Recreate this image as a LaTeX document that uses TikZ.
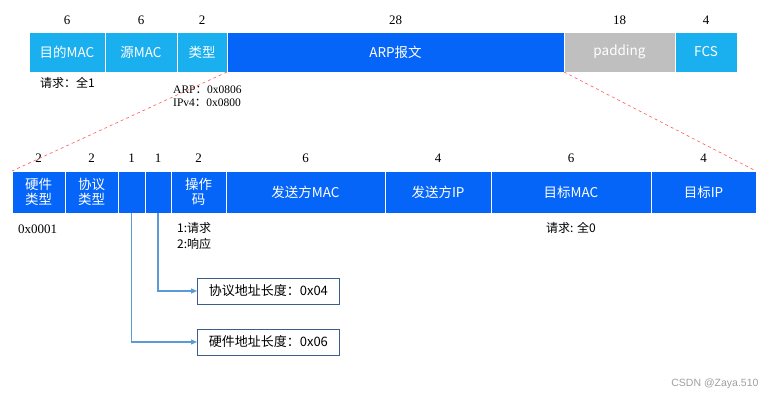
\documentclass[tikz,border=0pt]{standalone}
\usepackage{fontspec}
\setmainfont{Liberation Serif}
\setsansfont{Liberation Sans}
\newfontfamily\cjk{Noto Sans CJK SC}
\usetikzlibrary{arrows.meta,positioning}
\definecolor{ethblue}{HTML}{1AAFEE}
\definecolor{arpblue}{HTML}{0565F8}
\definecolor{padgray}{HTML}{BFBFBF}
\definecolor{leadblue}{HTML}{5B9BD5}
\definecolor{boxedge}{HTML}{3B5F8A}

\begin{document}
\begin{tikzpicture}[x=1pt, y=-1pt,
  node distance=0pt,
  field/.style={draw=white, line width=0.6pt, inner sep=0pt, outer sep=0pt,
    text=white, align=center, font=\cjk\fontsize{13.5}{15}\selectfont},
  eth/.style={field, fill=ethblue, minimum height=40pt},
  arp/.style={field, fill=arpblue, minimum height=42pt},
  size/.style={inner sep=0pt, font=\fontsize{13}{15}\selectfont},
  note/.style={anchor=west, align=left, inner sep=0pt, font=\cjk\fontsize{12}{16}\selectfont},
  lenbox/.style={draw=boxedge, line width=0.8pt, inner sep=0pt, minimum width=142pt,
    minimum height=26pt, font=\cjk\fontsize{13}{15}\selectfont},
  zoomline/.style={red!65, dashed, line width=0.6pt},
  lead/.style={leadblue, line width=1.3pt, -{Triangle[length=6pt, width=5pt]}}
]
\useasboundingbox (0,0) rectangle (775,401);

% Ethernet frame
\node[eth, minimum width=76pt, anchor=north west] (dmac) at (29,32) {目的MAC};
\node[eth, minimum width=72pt, right=of dmac] (smac) {源MAC};
\node[eth, minimum width=50pt, right=of smac] (type) {类型};
\node[eth, minimum width=337pt, right=of type, fill=arpblue] (arpmsg) {ARP报文};
\node[eth, minimum width=111pt, right=of arpmsg, fill=padgray] (pad) {padding};
\node[eth, minimum width=62pt, right=of pad] (fcs) {FCS};

\node[size, above=7pt of dmac] {6};
\node[size, above=7pt of smac] {6};
\node[size, above=7pt of type] {2};
\node[size, above=7pt of arpmsg] {28};
\node[size, above=7pt of pad] {18};
\node[size, above=7pt of fcs] {4};

\node[note] (dmacnote) at (40,83) {请求：全1};
\node[note, font=\fontsize{11.5}{13.5}\selectfont] (typenote) at (173,96)
  {ARP{\cjk ：}0x0806\\IPv4{\cjk ：}0x0800};

% ARP packet
\node[arp, minimum width=53pt, anchor=north west] (htype) at (12,171) {硬件\\类型};
\node[arp, minimum width=53pt, right=of htype] (ptype) {协议\\类型};
\node[arp, minimum width=27pt, right=of ptype] (hlen) {};
\node[arp, minimum width=26pt, right=of hlen] (plen) {};
\node[arp, minimum width=55pt, right=of plen] (oper) {操作\\码};
\node[arp, minimum width=159pt, right=of oper] (sha) {发送方MAC};
\node[arp, minimum width=106pt, right=of sha] (spa) {发送方IP};
\node[arp, minimum width=160pt, right=of spa] (tha) {目标MAC};
\node[arp, minimum width=105pt, right=of tha] (tpa) {目标IP};

\node[size, above=8pt of htype] {2};
\node[size, above=8pt of ptype] {2};
\node[size, above=8pt of hlen] {1};
\node[size, above=8pt of plen] {1};
\node[size, above=8pt of oper] {2};
\node[size, above=8pt of sha] {6};
\node[size, above=8pt of spa] {4};
\node[size, above=8pt of tha] {6};
\node[size, above=8pt of tpa] {4};

\draw[zoomline] (type.south east) -- (htype.north west);
\draw[zoomline] (arpmsg.south east) -- (tpa.north east);

\node[note, font=\fontsize{13}{15}\selectfont] (htypenote) at (18,229) {0x0001};
\node[note] (opernote) at (177,236) {1:请求\\2:响应};
\node[note] (thanote) at (546,228) {请求: 全0};

\node[lenbox, anchor=west] (plenbox) at (197,291) {协议地址长度：0x04};
\node[lenbox, anchor=west] (hlenbox) at (197,342) {硬件地址长度：0x06};
\draw[lead] (plen.south) |- (plenbox.west);
\draw[lead] (hlen.south) |- (hlenbox.west);

\node[anchor=east, text=gray!75, font=\sffamily\fontsize{10.5}{12}\selectfont] (mark)
  at (762,384) {CSDN @Zaya.510};
\end{tikzpicture}
\end{document}
